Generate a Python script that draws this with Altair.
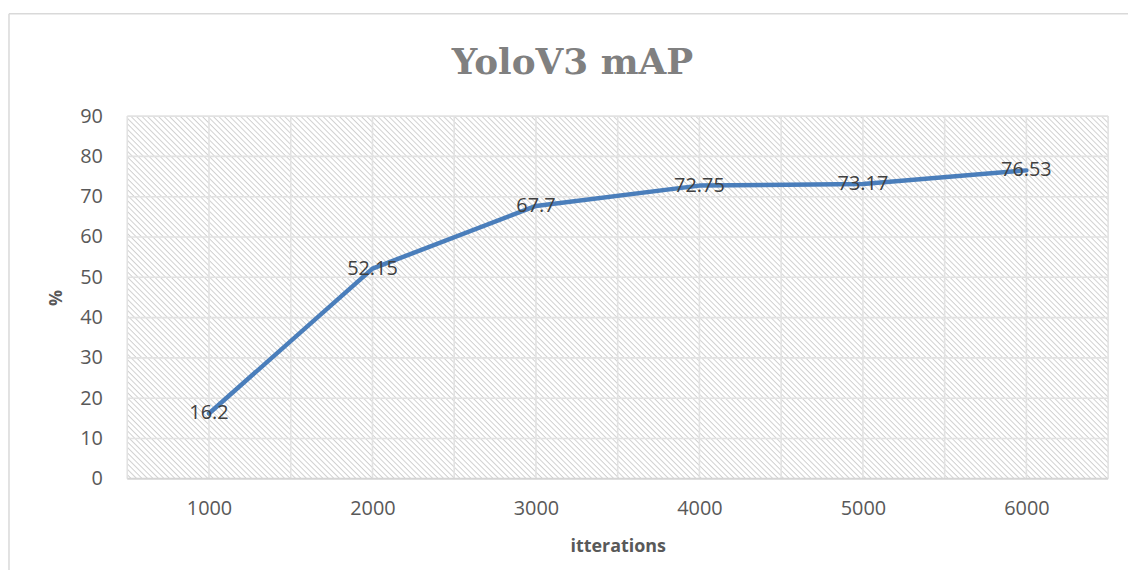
import altair as alt
import pandas as pd

# ---- data ----
iterations = [1000, 2000, 3000, 4000, 5000, 6000]
map_values = [16.2, 52.15, 67.7, 72.75, 73.17, 76.53]
map_labels = ["16.2", "52.15", "67.7", "72.75", "73.17", "76.53"]
y_ticks = [0, 10, 20, 30, 40, 50, 60, 70, 80, 90]
x_grid = [500, 1000, 1500, 2000, 2500, 3000, 3500, 4000, 4500, 5000, 5500, 6000, 6500]
chart_title = "YoloV3 mAP"

W, H = 987, 365

df = pd.DataFrame({"it": iterations, "v": map_values, "lab": map_labels})
ygrid_df = pd.DataFrame({"v": y_ticks[1:]})
ybase_df = pd.DataFrame({"v": [0]})
xgrid_df = pd.DataFrame({"it": x_grid})

xscale = alt.Scale(domain=[500, 6500], nice=False, zero=False)
yscale = alt.Scale(domain=[0, 90], nice=False)

x_axis = alt.Axis(values=iterations, title="itterations", grid=False, ticks=False, tickSize=0,
                  domain=False, labelPadding=20, labelFontSize=20, labelFont="Open Sans",
                  labelColor="#595959", format="d",
                  titleFont="Open Sans", titleFontSize=18, titleFontWeight="bold",
                  titleColor="#595959", titleX=W / 2, titleY=73, titleBaseline="alphabetic",
                  titleAlign="center")
y_axis = alt.Axis(values=y_ticks, title="%", grid=False, ticks=False, tickSize=0, domain=False,
                  labelPadding=25, labelFontSize=20, labelFont="Open Sans", labelColor="#595959",
                  titleFont="Open Sans", titleFontSize=18, titleFontWeight="bold",
                  titleColor="#595959", titleAngle=-90, titleX=-71, titleY=H / 2,
                  titleBaseline="middle", titleAlign="center")

X = alt.X("it:Q", scale=xscale, axis=x_axis)
Y = alt.Y("v:Q", scale=yscale, axis=y_axis)

# diagonal hatch as a striped linear gradient (style only)
r = H / W
s = (1 + r) / (1 + r * r)
periods = 245
stops = []
for k in range(periods):
    stops.append(alt.GradientStop(offset=k / periods, color="#ffffff"))
    stops.append(alt.GradientStop(offset=(k + 0.5) / periods, color="#ffffff"))
    stops.append(alt.GradientStop(offset=(k + 0.78) / periods, color="#d0d0d0"))
stops.append(alt.GradientStop(offset=1.0, color="#ffffff"))
hatch = alt.LinearGradient(gradient="linear", stops=stops, x1=0, y1=1, x2=s, y2=1 - s * r)

one = alt.Data(values=[{"a": 1}])

bg = alt.Chart(one).mark_rect(fill=hatch, strokeWidth=0).encode(
    x=alt.value(0), x2=alt.value(W), y=alt.value(0), y2=alt.value(H)
)

ygrid = alt.Chart(ygrid_df).mark_rule(color="#e2e2e2", strokeWidth=1.6).encode(y=Y)
xgrid = alt.Chart(xgrid_df).mark_rule(color="#e2e2e2", strokeWidth=1.6).encode(x=X)
ybase = alt.Chart(ybase_df).mark_rule(color="#d4d4d4", strokeWidth=2).encode(y=Y)

line = alt.Chart(df).mark_line(color="#4a7ebb", strokeWidth=4.5, strokeJoin="round",
                               strokeCap="round").encode(x=X, y=Y)

labels = alt.Chart(df).mark_text(font="Open Sans", fontSize=20, color="#404040", align="center",
                                 baseline="middle").encode(x=X, y=Y, text="lab:N")

title = alt.Chart(one).mark_text(font="DejaVu Serif", fontSize=36, fontWeight="bold", color="#808080",
                                 align="center", baseline="alphabetic", text=chart_title).encode(
    x=alt.value(448), y=alt.value(-42)
)

frame_left = alt.Chart(one).mark_rule(color="#d9d9d9", strokeWidth=1.5).encode(
    x=alt.value(-119), y=alt.value(-103), y2=alt.value(H + 200)
)
frame_top = alt.Chart(one).mark_rule(color="#d9d9d9", strokeWidth=1.5).encode(
    x=alt.value(-119), x2=alt.value(W + 100), y=alt.value(-103)
)

chart = alt.layer(bg, ygrid, xgrid, ybase, line, labels, title, frame_left, frame_top).properties(
    width=W, height=H,
    autosize=alt.AutoSizeParams(type="none"),
    padding={"left": 120, "top": 107, "right": 20, "bottom": 90},
).configure_view(stroke=None)

chart.save("out.html", embed_options={"renderer": "svg", "actions": False})
